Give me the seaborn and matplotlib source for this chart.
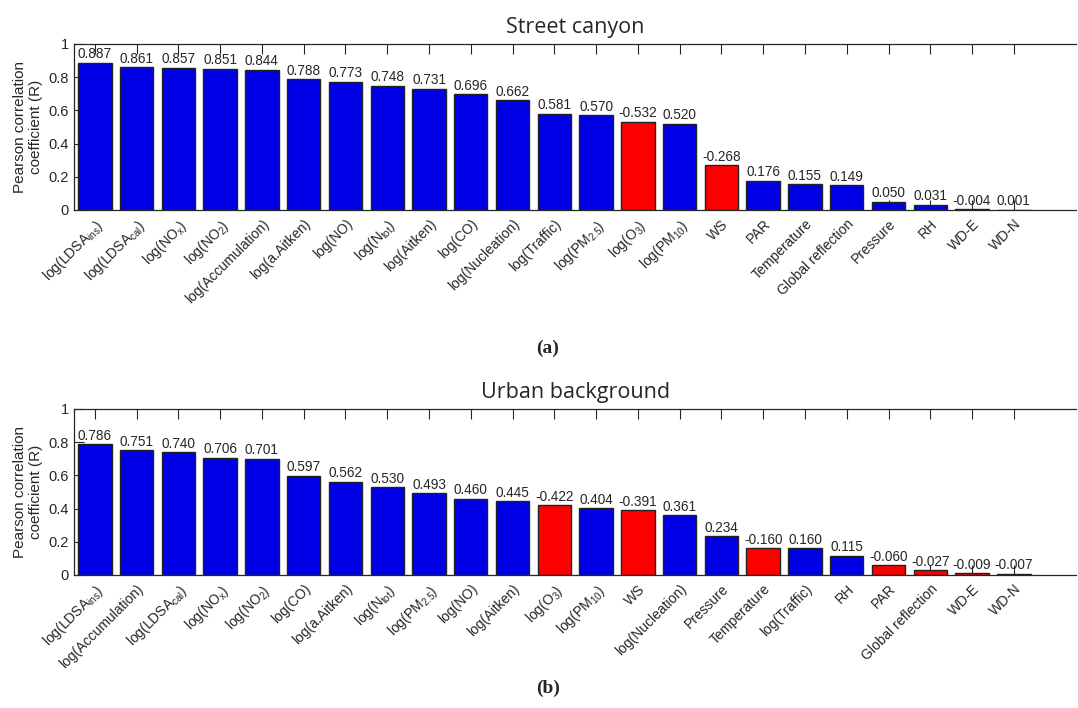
import matplotlib
matplotlib.use("Agg")
import matplotlib.pyplot as plt
import matplotlib.transforms as mtrans
import numpy as np
import pandas as pd
import seaborn as sns

# panel (a) street canyon
street_labels = ['log(LDSA$_{\\rm ins}$)', 'log(LDSA$_{\\rm cal}$)', 'log(NO$_{\\rm x}$)', 'log(NO$_{\\rm 2}$)',
                 'log(Accumulation)', 'log(a.Aitken)', 'log(NO)', 'log(N$_{\\rm tot}$)', 'log(Aitken)',
                 'log(CO)', 'log(Nucleation)', 'log(Traffic)', 'log(PM$_{\\rm 2.5}$)', 'log(O$_{\\rm 3}$)',
                 'log(PM$_{\\rm 10}$)', 'WS', 'PAR', 'Temperature', 'Global reflection', 'Pressure', 'RH',
                 'WD-E', 'WD-N']
street_r = [0.887, 0.861, 0.857, 0.851, 0.844, 0.788, 0.773, 0.748, 0.731, 0.696, 0.662, 0.581, 0.570,
            -0.532, 0.520, -0.268, 0.176, 0.155, 0.149, 0.050, 0.031, -0.004, 0.001]

# panel (b) urban background
urban_labels = ['log(LDSA$_{\\rm ins}$)', 'log(Accumulation)', 'log(LDSA$_{\\rm cal}$)', 'log(NO$_{\\rm x}$)',
                'log(NO$_{\\rm 2}$)', 'log(CO)', 'log(a.Aitken)', 'log(N$_{\\rm tot}$)', 'log(PM$_{\\rm 2.5}$)',
                'log(NO)', 'log(Aitken)', 'log(O$_{\\rm 3}$)', 'log(PM$_{\\rm 10}$)', 'WS', 'log(Nucleation)',
                'Pressure', 'Temperature', 'log(Traffic)', 'RH', 'PAR', 'Global reflection', 'WD-E', 'WD-N']
urban_r = [0.786, 0.751, 0.740, 0.706, 0.701, 0.597, 0.562, 0.530, 0.493, 0.460, 0.445, -0.422, 0.404,
           -0.391, 0.361, 0.234, -0.160, 0.160, 0.115, -0.060, -0.027, -0.009, -0.007]

sns.set_style("ticks")
plt.rcParams['font.family'] = ['Liberation Sans', 'DejaVu Sans']
plt.rcParams['mathtext.fontset'] = 'custom'
plt.rcParams['mathtext.rm'] = 'Liberation Sans'
plt.rcParams['mathtext.it'] = 'Liberation Sans:italic'
plt.rcParams['mathtext.bf'] = 'Liberation Sans:bold'

palette = {'pos': '#0000E6', 'neg': '#FF0000'}


def corr_panel(fig, ax, labels, r, title):
    df = pd.DataFrame({'label': labels, 'R': r})
    df['absR'] = df.R.abs()
    df['sign'] = np.where(df.R < 0, 'neg', 'pos')
    sns.barplot(data=df, x='label', y='absR', hue='sign', palette=palette, dodge=False, legend=False,
                width=0.8, edgecolor='#222222', linewidth=1.0, saturation=1, ax=ax)
    for cont in ax.containers:
        idx = [int(round(b.get_x() + b.get_width() / 2)) for b in cont]
        ax.bar_label(cont, labels=['%.3f' % df.R[i] for i in idx], padding=1, fontsize=9.8)
    ax.set_xlim(-0.5, len(labels) + 0.5)
    ax.set_ylim(0, 1)
    ax.set_yticks(np.arange(0, 1.01, 0.2))
    ax.set_yticklabels(['0', '0.2', '0.4', '0.6', '0.8', '1'])
    ax.set_xticks(np.arange(len(labels)))
    ax.set_xticklabels(labels, rotation=45, ha='right', va='top', rotation_mode='anchor', fontsize=10)
    # nudge rotated labels a little right/down, like the original
    shift = mtrans.ScaledTranslation(6 / 72, -2 / 72, fig.dpi_scale_trans)
    for lab in ax.get_xticklabels():
        lab.set_transform(lab.get_transform() + shift)
    ax.tick_params(axis='x', direction='in', top=True, length=7, width=0.8, pad=5)
    ax.tick_params(axis='y', direction='in', length=7, width=0.8, labelsize=10.5)
    ax.spines['right'].set_visible(False)
    for s in ['left', 'top', 'bottom']:
        ax.spines[s].set_linewidth(0.9)
    ax.set_xlabel('')
    ax.set_ylabel('Pearson correlation\ncoefficient (R)', fontsize=11)
    ax.set_title(title, fontsize=15.5, family='Open Sans', pad=8)


fig = plt.figure(figsize=(10.78, 7.08), dpi=100)
ax1 = fig.add_axes([0.0686, 0.7034, 0.93, 0.2345])
ax2 = fig.add_axes([0.0686, 0.1879, 0.93, 0.2345])

corr_panel(fig, ax1, street_labels, street_r, 'Street canyon')
corr_panel(fig, ax2, urban_labels, urban_r, 'Urban background')

fig.text(0.508, 1 - 348 / 708, '(a)', ha='center', va='center', fontsize=14, fontweight='bold',
         family='Liberation Serif')
fig.text(0.508, 1 - 688 / 708, '(b)', ha='center', va='center', fontsize=14, fontweight='bold',
         family='Liberation Serif')

fig.savefig('out.png', dpi=100)
